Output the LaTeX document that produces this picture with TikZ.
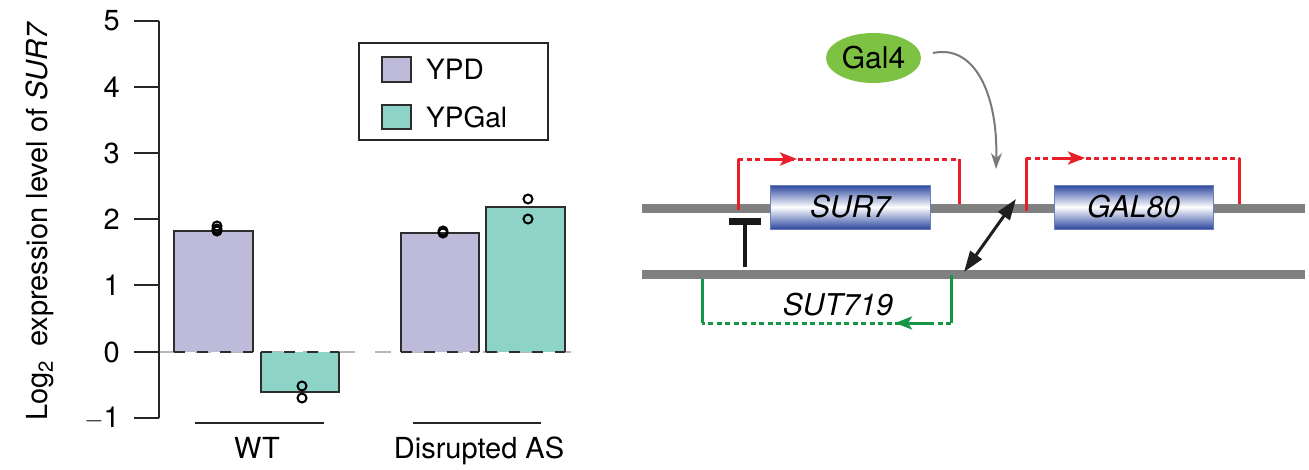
\documentclass[tikz,border=0pt]{standalone}
\usepackage{fontspec}
\setmainfont{TeX Gyre Heros}
\usetikzlibrary{arrows.meta,shapes.geometric}
\definecolor{ypd}{HTML}{BEBADA}
\definecolor{ypgal}{HTML}{8DD3C7}
\definecolor{dna}{RGB}{128,128,128}
\definecolor{rd}{RGB}{232,30,40}
\definecolor{gn}{RGB}{20,150,70}
\definecolor{galgreen}{RGB}{125,194,66}
\definecolor{gblue}{RGB}{45,72,160}
\definecolor{barline}{RGB}{45,45,45}
\tikzset{
  bigfont/.style={font=\fontsize{29}{32}\selectfont},
  legfont/.style={font=\fontsize{28}{31}\selectfont},
  axisline/.style={line width=2.2pt, black!85},
  barside/.style={line width=2.4pt, barline},
  barzero/.style={line width=2.6pt, barline, dash pattern=on 11pt off 12pt},
  dot/.style={line width=2pt, black},
  dnaline/.style={dna, line width=9pt},
  genebox/.style={draw=gblue!70, line width=0.8pt, top color=gblue, bottom color=gblue, middle color=white, minimum width=160pt, minimum height=44pt, inner sep=0pt, font=\fontsize{30}{32}\selectfont\itshape},
  redline/.style={rd, line width=3pt},
  reddash/.style={rd, line width=3pt, dash pattern=on 5pt off 3.5pt},
  greenline/.style={gn, line width=3pt},
  greendash/.style={gn, line width=3pt, dash pattern=on 5pt off 3.5pt},
  tssarrow/.style={-{Stealth[length=17pt,width=13pt,inset=4pt]}},
}
\begin{document}
\begin{tikzpicture}[x=1pt,y=-1pt]
\useasboundingbox (0,0) rectangle (1309,469);

% ---------- bar chart ----------
% zero reference line
\draw[gray!55, line width=1.2pt, dash pattern=on 16pt off 20pt] (159,352) -- (580,352);
% bars
\fill[ypd] (174,352) rectangle (253,231);
\draw[barside] (174,352) -- (174,231) -- (253,231) -- (253,352);
\draw[barzero] (174,352) -- (253,352);

\fill[ypgal] (261,352) rectangle (339,392);
\draw[barside] (261,352) -- (261,392) -- (339,392) -- (339,352);
\draw[barzero] (261,352) -- (339,352);

\fill[ypd] (401,352) rectangle (479,233);
\draw[barside] (401,352) -- (401,233) -- (479,233) -- (479,352);
\draw[barzero] (401,352) -- (479,352);

\fill[ypgal] (486,352) rectangle (565,207);
\draw[barside] (486,352) -- (486,207) -- (565,207) -- (565,352);
\draw[barzero] (486,352) -- (565,352);

% data points
\foreach \y in {226,229,231} \draw[dot] (217,\y) circle (4.5pt);
\foreach \y in {386,398} \draw[dot] (302,\y) circle (4.5pt);
\foreach \y in {231,233} \draw[dot] (443,\y) circle (4.5pt);
\foreach \y in {199,219} \draw[dot] (528,\y) circle (4.5pt);

% axis
\draw[axisline] (159,21) -- (159,418);
\foreach \v/\y in {5/21,4/87,3/153,2/219,1/285,0/352,{$-$1}/418}{
  \draw[axisline] (134,\y) -- (159,\y);
  \node[bigfont, anchor=east, inner sep=0pt] at (120,\y) {\v};
}
\node[bigfont, rotate=90, anchor=base, inner sep=0pt] (ylab) at (47,221)
  {Log\textsubscript{2}\hspace{14pt}expression level of \textit{SUR7}};

% group lines and labels
\draw[axisline] (195,423) -- (324,423);
\draw[axisline] (413,423) -- (541,423);
\node[bigfont, anchor=base, inner sep=0pt] (wt) at (257,458) {WT};
\node[bigfont, anchor=base, inner sep=0pt] (das) at (479,458) {Disrupted AS};

% legend
\draw[line width=2.2pt, black!85] (359,43) rectangle (548,140);
\draw[barside, fill=ypd] (382,57) rectangle (411,82);
\draw[barside, fill=ypgal] (382,105) rectangle (411,129);
\node[legfont, anchor=west, inner sep=0pt] (lypd) at (426,69.5) {YPD};
\node[legfont, anchor=west, inner sep=0pt] (lypgal) at (426,117) {YPGal};

% ---------- gene diagram ----------
\draw[dnaline] (642,208.5) -- (1305,208.5);
\draw[dnaline] (642,274.5) -- (1305,274.5);

\node[genebox] (sur7) at (850,207) {SUR7};
\node[genebox, minimum width=159pt] (gal80) at (1133.5,207) {GAL80};

% SUR7 transcript (red)
\coordinate (s1) at (738,210);
\coordinate (s2) at (738,159);
\coordinate (s3) at (959,159);
\coordinate (s4) at (959,204);
\coordinate (sa) at (764,159);
\coordinate (sb) at (797,159);
\draw[reddash] (s2) -- (s3);
\draw[redline] (s1) -- (s2);
\draw[redline] (s3) -- (s4);
\draw[redline, tssarrow] (sa) -- (sb);

% GAL80 transcript (red)
\coordinate (g1) at (1026,211);
\coordinate (g2) at (1026,158);
\coordinate (g3) at (1239,158);
\coordinate (g4) at (1239,204);
\coordinate (ga) at (1052,158);
\coordinate (gb) at (1085,158);
\draw[reddash] (g2) -- (g3);
\draw[redline] (g1) -- (g2);
\draw[redline] (g3) -- (g4);
\draw[redline, tssarrow] (ga) -- (gb);

% SUT719 transcript (green)
\coordinate (t1) at (951,275);
\coordinate (t2) at (951,323);
\coordinate (t3) at (702,323);
\coordinate (t4) at (702,279);
\coordinate (ta) at (933,323);
\coordinate (tb) at (895,323);
\draw[greendash] (t2) -- (t3);
\draw[greenline] (t1) -- (t2);
\draw[greenline] (t3) -- (t4);
\draw[greenline, tssarrow] (ta) -- (tb);
\node[font=\fontsize{30}{32}\selectfont\itshape, inner sep=0pt] (sut) at (838,305) {SUT719};

% repression bar
\coordinate (r1) at (745,267);
\coordinate (r2) at (745,222);
\draw[line width=4pt, black!90] (r1) -- (r2);
\draw[line width=7pt, black!90] (729,221.5) -- (761,221.5);

% looping double arrow
\coordinate (d1) at (964,272);
\coordinate (d2) at (1016,199);
\draw[line width=3pt, black!88, {Triangle[length=21pt,width=14pt]}-{Triangle[length=21pt,width=14pt]}] (d1) -- (d2);

% Gal4
\node[ellipse, fill=galgreen, minimum width=95pt, minimum height=50pt, inner sep=0pt, font=\fontsize{30}{32}\selectfont] (gal4) at (873.5,58) {Gal4};
\coordinate (c1) at (933,53);
\coordinate (c2) at (996,169);
\draw[black!52, line width=2pt, -{Stealth[length=16pt,width=11pt,inset=5pt]}] (c1) .. controls (975,44) and (998,95) .. (c2);

\end{tikzpicture}
\end{document}
